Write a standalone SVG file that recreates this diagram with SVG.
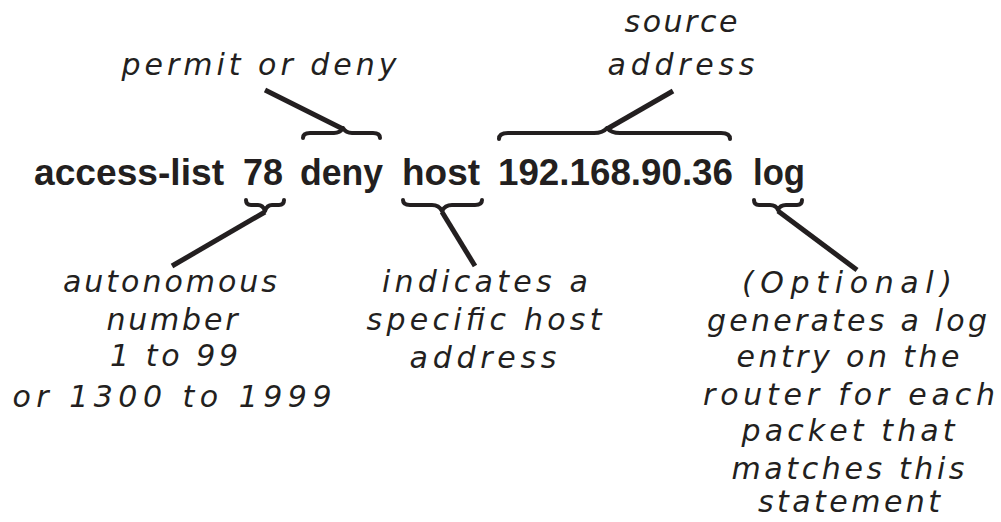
<svg xmlns="http://www.w3.org/2000/svg" width="1001" height="522" viewBox="0 0 1001 522">
<style>
.cmd{font-family:"Liberation Sans",Arial,sans-serif;font-weight:bold;font-size:37px;fill:#231f20}
.hand{font-family:"DejaVu Sans","Liberation Sans",sans-serif;font-style:italic;font-size:30px;fill:#231f20;text-anchor:middle}
.brace{fill:none;stroke:#231f20;stroke-width:4;stroke-linecap:round;stroke-linejoin:round}
.lead{fill:none;stroke:#231f20;stroke-width:5;stroke-linecap:butt}
</style>
<rect width="1001" height="522" fill="#ffffff"/>
<g id="command">
<text class="cmd" x="34" y="185" textLength="190" lengthAdjust="spacingAndGlyphs">access-list</text>
<text class="cmd" x="243" y="185" textLength="40" lengthAdjust="spacingAndGlyphs">78</text>
<text class="cmd" x="300" y="185" textLength="83" lengthAdjust="spacingAndGlyphs">deny</text>
<text class="cmd" x="402" y="185" textLength="78" lengthAdjust="spacingAndGlyphs">host</text>
<text class="cmd" x="498" y="185" textLength="235" lengthAdjust="spacingAndGlyphs">192.168.90.36</text>
<text class="cmd" x="753" y="185" textLength="52" lengthAdjust="spacingAndGlyphs">log</text>
</g>
<g id="connectors">
<path class="brace" d="M303,138 Q303,133 310,133 L334,133 Q340,133 343,128 Q346,133 352,133 L373,133 Q380,133 380,138"/>
<path class="lead" d="M343,129 L265,90"/>
<path class="brace" d="M499,139 Q499,133 508,133 L594,133 Q603,133 607,128 Q611,133 620,133 L721,133 Q730,133 730,139"/>
<path class="lead" d="M607,129 L673,91"/>
<path class="brace" d="M246,200 Q246,205 251,205 L258,205 Q263,205 265,211 Q267,205 272,205 L279,205 Q284,205 284,200"/>
<path class="lead" d="M265,212 L172,266"/>
<path class="brace" d="M403,200 Q403,205 410,205 L432,205 Q439,205 442,211 Q445,205 452,205 L475,205 Q482,205 482,200"/>
<path class="lead" d="M442,212 L475,266"/>
<path class="brace" d="M754,200 Q754,205 759,205 L770,205 Q776,205 778,210 Q780,205 786,205 L797,205 Q802,205 802,200"/>
<path class="lead" d="M778,211 L857,270"/>
</g>
<g id="label-permit">
<text class="hand" x="259" y="75" textLength="275">permit or deny</text>
</g>
<g id="label-source">
<text class="hand" x="681" y="32" textLength="113">source</text>
<text class="hand" x="681" y="75" textLength="147">address</text>
</g>
<g id="label-autonomous">
<text class="hand" x="170" y="292" textLength="214">autonomous</text>
<text class="hand" x="172" y="330" textLength="131">number</text>
<text class="hand" x="174" y="366" textLength="128">1 to 99</text>
<text class="hand" x="172" y="407" textLength="319">or 1300 to 1999</text>
</g>
<g id="label-host">
<text class="hand" x="485" y="292" textLength="206">indicates a</text>
<text class="hand" x="484" y="330" textLength="235">specific host</text>
<text class="hand" x="483" y="368" textLength="147">address</text>
</g>
<g id="label-log">
<text class="hand" x="847" y="293" textLength="210">(Optional)</text>
<text class="hand" x="847" y="331" textLength="280">generates a log</text>
<text class="hand" x="848" y="367" textLength="223">entry on the</text>
<text class="hand" x="849" y="405" textLength="292">router for each</text>
<text class="hand" x="848" y="441" textLength="213">packet that</text>
<text class="hand" x="848" y="479" textLength="233">matches this</text>
<text class="hand" x="849" y="512" textLength="182">statement</text>
</g>
</svg>
